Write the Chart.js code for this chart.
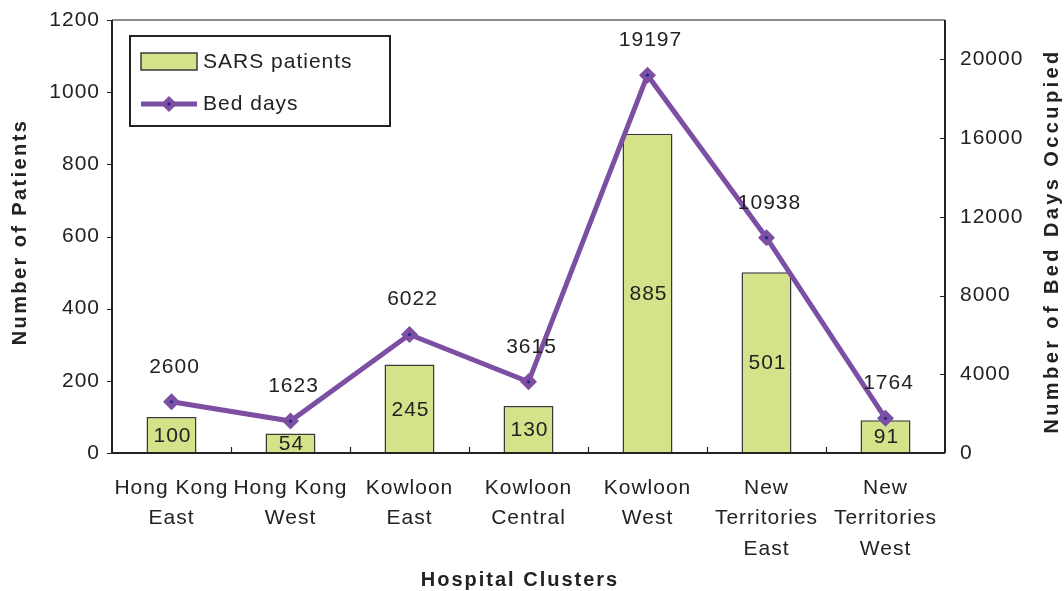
<!DOCTYPE html>
<html>
<head>
<meta charset="utf-8">
<script src="https://cdn.jsdelivr.net/npm/chart.js@4/dist/chart.umd.min.js"></script>
<style>
  html, body { margin: 0; padding: 0; background: #fff; }
  #wrap { width: 1064px; height: 591px; }
</style>
</head>
<body>
<div id="wrap"><canvas id="chart" width="1064" height="591"></canvas></div>
<script>
// ---------------------------------------------------------
// Data
// ---------------------------------------------------------
const clusters = [
  ['Hong Kong', 'East'],
  ['Hong Kong', 'West'],
  ['Kowloon', 'East'],
  ['Kowloon', 'Central'],
  ['Kowloon', 'West'],
  ['New', 'Territories', 'East'],
  ['New', 'Territories', 'West']
];
const sarsPatients = [100, 54, 245, 130, 885, 501, 91];
const bedDays = [2600, 1623, 6022, 3615, 19197, 10938, 1764];
const leftTicks = [0, 200, 400, 600, 800, 1000, 1200];
const rightTicks = [0, 4000, 8000, 12000, 16000, 20000];

const FONT = '"Liberation Sans", Arial, sans-serif';
const FS = 21;
const BAR_FILL = '#d4e38a';
const BAR_EDGE = '#3a3a3a';
const LINE_COLOR = '#7d4fa3';
const TEXT = '#222';

// ---------------------------------------------------------
// Drawing helpers (axes, labels, legend, titles)
// ---------------------------------------------------------
function diamond(ctx, x, y, r) {
  ctx.beginPath();
  ctx.moveTo(x, y - r);
  ctx.lineTo(x + r, y);
  ctx.lineTo(x, y + r);
  ctx.lineTo(x - r, y);
  ctx.closePath();
  ctx.fillStyle = LINE_COLOR;
  ctx.fill();
  ctx.beginPath();
  ctx.arc(x, y, 1.6, 0, Math.PI * 2);
  ctx.fillStyle = '#1f2a8a';
  ctx.fill();
}

function vTitle(ctx, text, x, y, spacing) {
  ctx.save();
  ctx.letterSpacing = spacing + 'px';
  ctx.translate(x, y);
  ctx.rotate(-Math.PI / 2);
  ctx.fillText(text, 0, 0);
  ctx.restore();
}

const framePlugin = {
  id: 'frame',
  beforeUpdate(chart) {
    // wider text like the original
    chart.ctx.letterSpacing = '1px';
  },
  beforeDraw(chart) {
    chart.ctx.letterSpacing = '1px';
  },
  afterDatasetsDraw(chart) {
    const { ctx, chartArea: a, scales } = chart;
    const x = scales.x, yL = scales.y, yR = scales.y1;
    ctx.save();

    // top border
    ctx.strokeStyle = '#666';
    ctx.lineWidth = 1.5;
    ctx.beginPath();
    ctx.moveTo(a.left, a.top); ctx.lineTo(a.right, a.top);
    ctx.stroke();

    // axes
    ctx.strokeStyle = '#222';
    ctx.lineWidth = 2;
    ctx.beginPath();
    ctx.moveTo(a.left, a.top); ctx.lineTo(a.left, a.bottom);
    ctx.moveTo(a.right, a.top); ctx.lineTo(a.right, a.bottom);
    ctx.moveTo(a.left, a.bottom); ctx.lineTo(a.right, a.bottom);
    ctx.stroke();

    ctx.lineWidth = 1.2;
    ctx.beginPath();
    // left ticks outward
    leftTicks.forEach(v => {
      const py = Math.round(yL.getPixelForValue(v)) + 0.5;
      ctx.moveTo(a.left - 5, py); ctx.lineTo(a.left, py);
    });
    // right ticks inward
    rightTicks.forEach(v => {
      const py = Math.round(yR.getPixelForValue(v)) + 0.5;
      ctx.moveTo(a.right - 5, py); ctx.lineTo(a.right, py);
    });
    // category boundary ticks pointing up
    const half = (x.getPixelForValue(1) - x.getPixelForValue(0)) / 2;
    for (let i = 1; i < clusters.length; i++) {
      const px = Math.round(x.getPixelForValue(i) - half) + 0.5;
      ctx.moveTo(px, a.bottom - 6); ctx.lineTo(px, a.bottom);
    }
    ctx.stroke();

    // line markers
    const lineMeta = chart.getDatasetMeta(1);
    lineMeta.data.forEach(p => diamond(ctx, p.x, p.y, 8.5));

    // value labels
    ctx.font = FS + 'px ' + FONT;
    ctx.fillStyle = TEXT;
    ctx.textAlign = 'center';
    ctx.textBaseline = 'middle';
    const barMeta = chart.getDatasetMeta(0);
    barMeta.data.forEach((b, i) => {
      ctx.fillText(String(sarsPatients[i]), b.x + 1, (b.y + b.base) / 2 + 1);
    });
    lineMeta.data.forEach((p, i) => {
      ctx.fillText(String(bedDays[i]), p.x + 3, p.y - 35);
    });

    // legend
    const lx = a.left + 18, ly = a.top + 16, lw = 260, lh = 90;
    ctx.strokeStyle = '#222';
    ctx.lineWidth = 2;
    ctx.fillStyle = '#fff';
    ctx.fillRect(lx, ly, lw, lh);
    ctx.strokeRect(lx, ly, lw, lh);
    ctx.fillStyle = BAR_FILL;
    ctx.fillRect(lx + 11, ly + 17, 56, 17);
    ctx.strokeStyle = BAR_EDGE;
    ctx.lineWidth = 1.5;
    ctx.strokeRect(lx + 11, ly + 17, 56, 17);
    ctx.strokeStyle = LINE_COLOR;
    ctx.lineWidth = 5;
    ctx.beginPath();
    ctx.moveTo(lx + 11, ly + 68); ctx.lineTo(lx + 67, ly + 68);
    ctx.stroke();
    diamond(ctx, lx + 39, ly + 68, 8);
    ctx.fillStyle = TEXT;
    ctx.textAlign = 'left';
    ctx.fillText('SARS patients', lx + 73, ly + 26);
    ctx.fillText('Bed days', lx + 73, ly + 68);

    // axis titles
    ctx.font = 'bold 20px ' + FONT;
    ctx.textAlign = 'center';
    ctx.letterSpacing = '2px';
    ctx.fillText('Hospital Clusters', 520, 580);
    vTitle(ctx, 'Number of Patients', 20, 232, 2.4);
    vTitle(ctx, 'Number of Bed Days Occupied', 1052, 241, 3.4);

    ctx.restore();
  }
};

// ---------------------------------------------------------
// Chart
// ---------------------------------------------------------
new Chart(document.getElementById('chart'), {
  data: {
    labels: clusters,
    datasets: [
      {
        type: 'bar',
        label: 'SARS patients',
        data: sarsPatients,
        backgroundColor: BAR_FILL,
        borderColor: BAR_EDGE,
        borderWidth: 1.5,
        categoryPercentage: 1,
        barPercentage: 0.42,
        yAxisID: 'y',
        order: 2
      },
      {
        type: 'line',
        label: 'Bed days',
        data: bedDays,
        borderColor: LINE_COLOR,
        borderWidth: 5,
        pointRadius: 0,
        tension: 0,
        yAxisID: 'y1',
        order: 1
      }
    ]
  },
  options: {
    responsive: false,
    animation: false,
    devicePixelRatio: 1,
    layout: { padding: { top: 20, left: 0, right: 0, bottom: 0 } },
    plugins: {
      legend: { display: false },
      tooltip: { enabled: false }
    },
    scales: {
      x: {
        offset: true,
        grid: { display: false },
        border: { display: false },
        ticks: {
          color: TEXT,
          font: { family: FONT, size: FS, lineHeight: 1.45 },
          padding: 12,
          maxRotation: 0,
          autoSkip: false
        },
        afterFit: s => { s.height = 138; }
      },
      y: {
        position: 'left',
        min: 0,
        max: 1200,
        grid: { display: false },
        border: { display: false },
        ticks: {
          stepSize: 200,
          color: TEXT,
          font: { family: FONT, size: FS },
          padding: 4,
          callback: v => String(v)
        },
        afterFit: s => { s.width = 112; }
      },
      y1: {
        position: 'right',
        min: 0,
        max: 22000,
        grid: { display: false },
        border: { display: false },
        afterBuildTicks: s => { s.ticks = rightTicks.map(v => ({ value: v })); },
        ticks: {
          color: TEXT,
          font: { family: FONT, size: FS },
          padding: 7,
          callback: v => String(v)
        },
        afterFit: s => { s.width = 119; }
      }
    }
  },
  plugins: [framePlugin]
});
</script>
</body>
</html>
